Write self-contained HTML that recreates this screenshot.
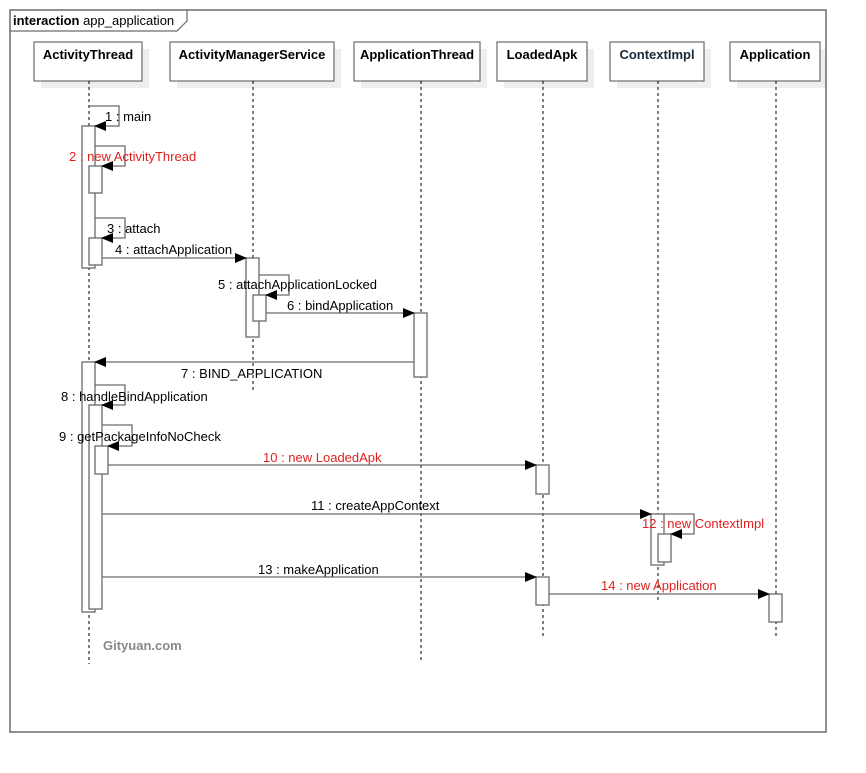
<!DOCTYPE html>
<html><head><meta charset="utf-8"><style>
html,body{margin:0;padding:0;background:#fff;}
svg{display:block;font-family:"Liberation Sans",Arial,sans-serif;}
</style></head><body>
<svg width="866" height="773" viewBox="0 0 866 773" xmlns="http://www.w3.org/2000/svg">
<defs>
<marker id="ah" markerWidth="12" markerHeight="10" refX="11" refY="5" orient="auto" markerUnits="userSpaceOnUse">
<path d="M0,0 L12,5 L0,10 z" fill="#000"/></marker>
</defs>
<rect x="0" y="0" width="866" height="773" fill="#fff"/>
<g fill="#eeeeee">
<rect x="41" y="49" width="108" height="39"/><rect x="177" y="49" width="164" height="39"/>
<rect x="361" y="49" width="126" height="39"/><rect x="504" y="49" width="90" height="39"/>
<rect x="617" y="49" width="94" height="39"/><rect x="737" y="49" width="89" height="39"/>
</g>
<rect x="10" y="10" width="816" height="722" fill="none" stroke="#6a6a6a" stroke-width="1.5"/>
<path d="M10,31 L177,31 L187,21 L187,10" fill="none" stroke="#6a6a6a" stroke-width="1.2"/>
<text x="13" y="25" font-size="13"><tspan font-weight="bold">interaction</tspan> app_application</text>

<g fill="#fff" stroke="#6a6a6a" stroke-width="1.2">
<rect x="34" y="42" width="108" height="39"/><rect x="170" y="42" width="164" height="39"/>
<rect x="354" y="42" width="126" height="39"/><rect x="497" y="42" width="90" height="39"/>
<rect x="610" y="42" width="94" height="39"/><rect x="730" y="42" width="90" height="39"/>
</g>
<g font-size="13" font-weight="bold" text-anchor="middle">
<text x="88" y="59">ActivityThread</text><text x="252" y="59">ActivityManagerService</text>
<text x="417" y="59">ApplicationThread</text><text x="542" y="59">LoadedApk</text>
<text x="657" y="59" fill="#1a2a3a">ContextImpl</text><text x="775" y="59">Application</text>
</g>
<g stroke="#000" stroke-width="1" stroke-dasharray="3,3">
<line x1="89" y1="81" x2="89" y2="664"/><line x1="253" y1="81" x2="253" y2="390"/>
<line x1="421" y1="81" x2="421" y2="663"/><line x1="543" y1="81" x2="543" y2="636"/>
<line x1="658" y1="81" x2="658" y2="600"/><line x1="776" y1="81" x2="776" y2="636"/>
</g>
<g fill="#fff" stroke="#6a6a6a" stroke-width="1.3">
<rect x="82" y="126" width="13" height="142"/>
<rect x="89" y="166" width="13" height="27"/>
<rect x="89" y="238" width="13" height="27"/>
<rect x="246" y="258" width="13" height="79"/>
<rect x="253" y="295" width="13" height="26"/>
<rect x="414" y="313" width="13" height="64"/>
<rect x="82" y="362" width="13" height="250"/>
<rect x="89" y="405" width="13" height="204"/>
<rect x="95" y="446" width="13" height="28"/>
<rect x="536" y="465" width="13" height="29"/>
<rect x="651" y="514" width="13" height="51"/>
<rect x="658" y="534" width="13" height="28"/>
<rect x="536" y="577" width="13" height="28"/>
<rect x="769" y="594" width="13" height="28"/>
</g>
<g fill="none" stroke="#6a6a6a" stroke-width="1.3" marker-end="url(#ah)">
<path d="M89,106 H119 V126 H95"/>
<path d="M95,146 H125 V166 H102"/>
<path d="M95,218 H125 V238 H102"/>
<path d="M102,258 H246"/>
<path d="M259,275 H289 V295 H266"/>
<path d="M266,313 H414"/>
<path d="M414,362 H95"/>
<path d="M95,385 H125 V405 H102"/>
<path d="M102,425 H132 V446 H108"/>
<path d="M108,465 H536"/>
<path d="M102,514 H651"/>
<path d="M664,514 H694 V534 H671"/>
<path d="M102,577 H536"/>
<path d="M549,594 H769"/>
</g>
<g font-size="13">
<text x="105" y="121">1 : main</text>
<text x="69" y="161" fill="#e02020">2 : new ActivityThread</text>
<text x="107" y="233">3 : attach</text>
<text x="115" y="254">4 : attachApplication</text>
<text x="218" y="289">5 : attachApplicationLocked</text>
<text x="287" y="310">6 : bindApplication</text>
<text x="181" y="378">7 : BIND_APPLICATION</text>
<text x="61" y="401">8 : handleBindApplication</text>
<text x="59" y="441">9 : getPackageInfoNoCheck</text>
<text x="263" y="462" fill="#e02020">10 : new LoadedApk</text>
<text x="311" y="510">11 : createAppContext</text>
<text x="642" y="528" fill="#e02020">12 : new ContextImpl</text>
<text x="258" y="574">13 : makeApplication</text>
<text x="601" y="590" fill="#e02020">14 : new Application</text>
<text x="103" y="650" fill="#888" font-weight="bold">Gityuan.com</text>
</g>
</svg>
</body></html>
